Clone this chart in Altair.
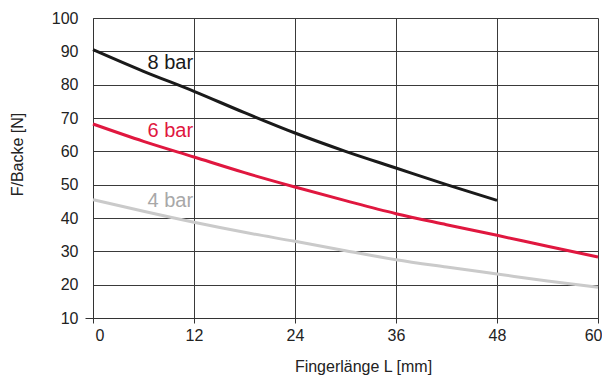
import altair as alt
import pandas as pd

x_vals = [0, 6, 12, 18, 24, 30, 36, 42, 48, 54, 60]
bar8 = [90.5, 84.0, 78.0, 71.6, 65.5, 60.0, 55.0, 50.0, 45.3, None, None]
bar6 = [68.2, 63.0, 58.3, 53.6, 49.3, 45.2, 41.3, 38.0, 34.8, 31.5, 28.3]
bar4 = [45.5, 42.0, 38.7, 35.7, 33.0, 30.2, 27.5, 25.3, 23.2, 21.1, 19.2]
series = ["8 bar", "6 bar", "4 bar"]
colors = ["#1a1a1a", "#e0173f", "#cacaca"]
text_colors = ["#1a1a1a", "#e0173f", "#a8a8a8"]
label_x = [11.9, 11.9, 11.9]
label_y = [84.6, 64.4, 43.4]
x_ticks = [0, 12, 24, 36, 48, 60]
y_ticks = [10, 20, 30, 40, 50, 60, 70, 80, 90, 100]

rows = []
for name, vals in zip(series, [bar8, bar6, bar4]):
    for xv, yv in zip(x_vals, vals):
        if yv is not None:
            rows.append({"L": xv, "F": yv, "s": name})
df = pd.DataFrame(rows)
lab = pd.DataFrame({"L": label_x, "F": label_y, "s": series})

font = "Liberation Sans"
xs = alt.Scale(domain=[0, 60], nice=False)
ys = alt.Scale(domain=[10, 100], nice=False)
cs = alt.Scale(domain=series, range=colors)

x_axis = alt.Axis(
    values=x_ticks, title="Fingerlänge L [mm]",
    tickSize=5, tickColor="#333", domainColor="#333", labelOverlap=False,
    labelPadding=4, labelFontSize=16, labelColor="#222", labelFont=font,
    labelAlign=alt.ExprRef("datum.value == 0 ? 'left' : datum.value == 60 ? 'right' : 'center'"),
    labelOffset=alt.ExprRef("datum.value == 0 ? 2 : datum.value == 60 ? 4 : 0"),
    titleFontSize=16, titleFont=font, titleFontWeight="normal", titleColor="#222",
    titleX=270, titleY=53, titleAlign="center", titleBaseline="alphabetic",
    gridColor="#3a3a3a", gridWidth=1, gridOpacity=1)
y_axis = alt.Axis(
    values=y_ticks, title="F/Backe [N]",
    tickSize=8, tickColor="#333", domainColor="#333", labelOverlap=False,
    tickOpacity=alt.ExprRef("datum.value == 10 ? 1 : 0"),
    labelPadding=7, labelFontSize=16, labelColor="#222", labelFont=font,
    titleFontSize=16, titleFont=font, titleFontWeight="normal", titleColor="#222",
    titleX=-76, titleY=136, titleAlign="center", titleBaseline="middle",
    gridColor="#3a3a3a", gridWidth=1, gridOpacity=1)

lines = alt.Chart(df).mark_line(strokeWidth=3, interpolate="monotone").encode(
    x=alt.X("L:Q", scale=xs, axis=x_axis),
    y=alt.Y("F:Q", scale=ys, axis=y_axis),
    color=alt.Color("s:N", scale=cs, legend=None),
    detail="s:N",
)

texts = alt.Chart(lab).mark_text(align="right", baseline="alphabetic", fontSize=20, font=font).encode(
    x=alt.X("L:Q", scale=xs, axis=x_axis),
    y=alt.Y("F:Q", scale=ys, axis=y_axis),
    text="s:N",
    color=alt.Color("s:N", scale=alt.Scale(domain=series, range=text_colors), legend=None),
)

chart = alt.layer(lines, texts).resolve_scale(color="independent").properties(
    width=505, height=300,
    autosize=alt.AutoSizeParams(type="none"),
    padding={"left": 85, "top": 10, "right": 4, "bottom": 57},
).configure_axis(labelOverlap=False).configure_view(stroke="#333", strokeWidth=1).configure(background="white")

chart.save("out.html", embed_options={"renderer": "svg", "actions": False})
